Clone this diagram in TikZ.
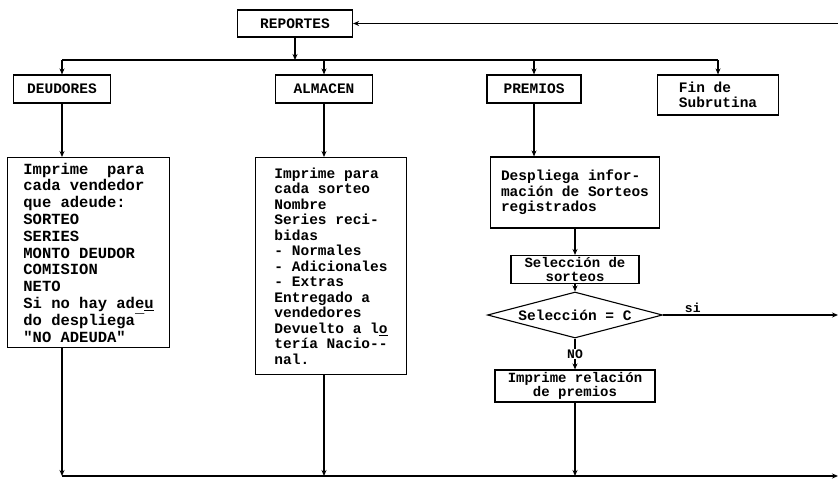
\documentclass[tikz,border=0pt]{standalone}
\usepackage{fontspec}
\newfontfamily\dotfont{Liberation Mono}
\usetikzlibrary{shapes.geometric,arrows.meta}
\begin{document}
\begin{tikzpicture}[x=1pt,y=-1pt,
  box/.style={draw, line width=1.1pt, inner sep=0pt, align=center,
    font=\dotfont\bfseries\fontsize{14.5}{15.5}\selectfont},
  bigtxt/.style={font=\dotfont\bfseries\fontsize{15.5}{16.8}\selectfont},
  smalltxt/.style={font=\dotfont\bfseries\fontsize{13}{13}\selectfont},
  arr/.style={line width=1.1pt, -{Stealth[length=6pt,width=5pt]}},
  ln/.style={line width=1.1pt}]
\useasboundingbox (0,0) rectangle (838,479);
\fill[white] (0,0) rectangle (838,479);

% top row
\node[box, minimum width=115pt, minimum height=27pt] (rep) at (295,23.5) {REPORTES};
\node[box, minimum width=97pt, minimum height=28pt] (deu) at (62,89) {DEUDORES};
\node[box, minimum width=97pt, minimum height=28pt] (alm) at (324,89) {ALMACEN};
\node[box, minimum width=94pt, minimum height=28pt] (pre) at (534,89) {PREMIOS};
\node[box, minimum width=121pt, minimum height=40pt, align=left] (fin) at (718,95) {Fin de\\Subrutina};

% big boxes
\node[box, bigtxt, align=left, anchor=north west, minimum width=162pt, minimum height=190pt] (deud) at (7,157)
  {Imprime~~para\\cada vendedor\\que adeude:\\SORTEO\\SERIES\\MONTO DEUDOR\\COMISION\\NETO\\Si no hay ade\underline{u}\\do despliega¯\\"NO ADEUDA"};
\node[box, align=left, anchor=north west, minimum width=151pt, minimum height=217pt] (almd) at (255,157)
  {Imprime para\\cada sorteo\\Nombre\\Series reci-\\bidas\\- Normales\\- Adicionales\\- Extras\\Entregado a\\vendedores\\Devuelto a l\underline{o}\\tería Nacio-{}-\\nal.};

% premios branch
\node[box, align=left, minimum width=169pt, minimum height=71pt] (desp) at (575,192.5)
  {Despliega infor-\\mación de Sorteos\\registrados};
\node[box, font=\dotfont\bfseries\fontsize{14}{13.5}\selectfont, minimum width=128pt, minimum height=28pt] (sel) at (575,269.5)
  {Selección de\\sorteos};
\node[box, diamond, aspect=3.8, minimum width=175pt, minimum height=46pt] (dia) at (575,315) {Selección = C};
\node[box, font=\dotfont\bfseries\fontsize{14}{14}\selectfont, minimum width=160pt, minimum height=32pt] (imp) at (575,386)
  {Imprime relación\\de premios};

% coordinates
\coordinate (fbk) at (838,23.5);
\coordinate (b1L) at (62,60);
\coordinate (b1R) at (718,60);
\coordinate (b2L) at (62,476);
\coordinate (b2R) at (838,476);
\coordinate (sir) at (838,315);

% connectors
\draw[arr] (fbk) -- (rep.east);
\draw[arr] (rep.south) -- (rep.south |- b1L);
\draw[ln] (b1L) -- (b1R);
\draw[arr] (b1L) -- (deu.north);
\draw[arr] (alm.north |- b1L) -- (alm.north);
\draw[arr] (pre.north |- b1L) -- (pre.north);
\draw[arr] (b1R) -- (fin.north);

\draw[arr] (deu.south) -- (deu.south |- deud.north);
\draw[arr] (alm.south) -- (alm.south |- almd.north);
\draw[arr] (pre.south) -- (pre.south |- desp.north);
\draw[arr] (desp.south -| sel.north) -- (sel.north);
\draw[arr] (sel.south) -- (dia.north);
\draw[arr] (dia.south) -- node[fill=white, inner sep=1pt, smalltxt] (nolab) {NO} (imp.north);
\draw[arr] (dia.east) -- node[pos=0.17, above, inner sep=2pt, smalltxt] (silab) {si} (sir);

\draw[arr] (b2L) -- (b2R);
\draw[arr] (deu.south |- deud.south) -- (b2L);
\draw[arr] (alm.south |- almd.south) -- (alm.south |- b2L);
\draw[arr] (imp.south) -- (imp.south |- b2L);
\end{tikzpicture}
\end{document}
